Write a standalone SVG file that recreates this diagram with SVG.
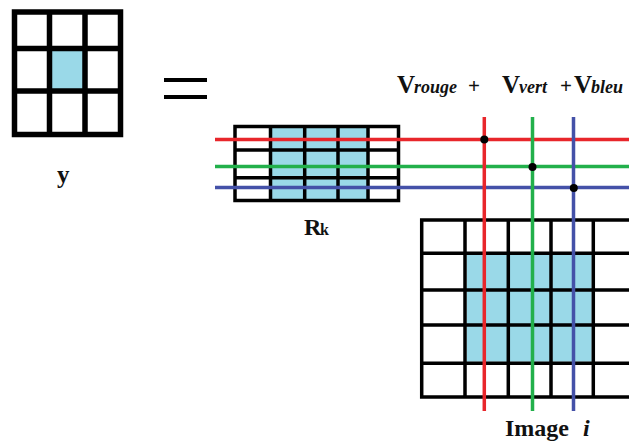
<svg xmlns="http://www.w3.org/2000/svg" width="629" height="444" viewBox="0 0 629 444">
<style>
.cy{fill:#9ad9e8}
.g1{stroke:#000;stroke-width:5.5;fill:none}
.g2{stroke:#000;stroke-width:3.5;fill:none}
.t{font-family:"Liberation Serif",serif;font-weight:bold;fill:#111}
.it{font-style:italic}
.r{stroke:#e8262b;stroke-width:3.5}
.gr{stroke:#22b04b;stroke-width:3.5}
.b{stroke:#4451a8;stroke-width:3.5}
</style>
<rect width="629" height="444" fill="#fff"/>
<g id="y-grid">
<rect class="cy" x="51" y="51" width="32" height="38"/>
<rect class="g1" x="14.5" y="12" width="106" height="122.5"/>
<path class="g1" d="M49.5 12V134.5M85 12V134.5M14.5 48.5H120.5M14.5 91H120.5"/>
</g>
<g id="y-label"><text class="t" x="57" y="183" font-size="25">y</text></g>
<g id="equals"><path d="M164 80H207M164 97H207" stroke="#000" stroke-width="4"/></g>
<g id="rk-grid">
<rect class="cy" x="272" y="128" width="95" height="71"/>
<rect class="g2" x="235" y="126.5" width="163.5" height="74"/>
<path class="g2" d="M270.5 126.5V200.5M304.7 126.5V200.5M338 126.5V200.5M368 126.5V200.5M235 150H398.5M235 177.8H398.5"/>
</g>
<g id="rk-label"><text class="t" x="304" y="235" font-size="24">R</text><text class="t" x="320" y="235" font-size="16">k</text></g>
<g id="image-label"><text class="t" x="505" y="436" font-size="24">Image</text><text class="t it" x="583" y="436" font-size="24">i</text></g>
<g id="image-grid">
<rect class="cy" x="466.7" y="255" width="125" height="106.7"/>
<path class="g2" d="M629 220H421.7V397H629M465 220V397M508.3 220V397M551 220V397M593.3 220V397M421.7 253.3H629M421.7 290H629M421.7 325H629M421.7 363.3H629"/>
</g>
<g id="v-label">
<text class="t" x="397" y="93" font-size="25">V</text><text class="t it" x="414" y="93" font-size="18">rouge</text>
<text class="t" x="468" y="93" font-size="21">+</text>
<text class="t" x="502" y="93" font-size="25">V</text><text class="t it" x="519" y="93" font-size="18">vert</text>
<text class="t" x="560" y="93" font-size="21">+</text>
<text class="t" x="574" y="93" font-size="25">V</text><text class="t it" x="591" y="93" font-size="18">bleu</text>
</g>
<g id="connectors">
<line class="r" x1="215" y1="139.5" x2="629" y2="139.5"/>
<line class="gr" x1="215" y1="166.5" x2="629" y2="166.5"/>
<line class="b" x1="215" y1="187.5" x2="629" y2="187.5"/>
<line class="r" x1="484.3" y1="117" x2="484.3" y2="411"/>
<line class="gr" x1="532.5" y1="117" x2="532.5" y2="411"/>
<line class="b" x1="573.5" y1="117" x2="573.5" y2="411"/>
<circle cx="484.3" cy="139.5" r="4"/>
<circle cx="532.5" cy="167" r="4"/>
<circle cx="573.8" cy="188" r="4"/>
</g>
</svg>
